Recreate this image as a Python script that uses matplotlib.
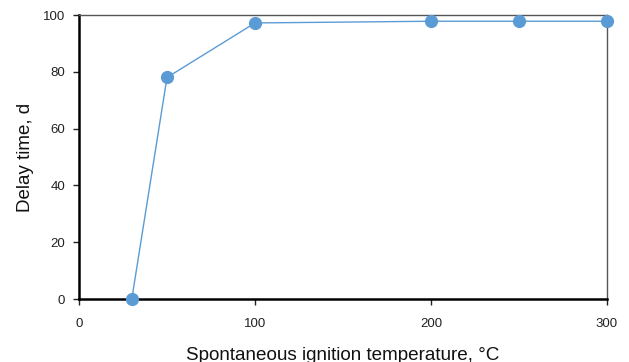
import matplotlib
matplotlib.use('Agg')
import matplotlib.pyplot as plt

# 数据
temps = [30, 50, 100, 200, 250, 300]
delay = [0, 78, 97.2, 97.8, 97.8, 97.8]
xticks = [0, 100, 200, 300]
yticks = [0, 20, 40, 60, 80, 100]

plt.rcParams['font.family'] = ['Liberation Sans', 'DejaVu Sans']

fig = plt.figure(figsize=(6.29, 3.62), dpi=100)
ax = fig.add_axes([79/629, 63/362, 528/629, 284/362])

ax.plot(temps, delay, color='#5B9BD5', linewidth=1.0, marker='o',
        markersize=8.5, markerfacecolor='#5B9BD5', markeredgecolor='#5B9BD5',
        clip_on=False, zorder=3)

ax.set_xlim(0, 300)
ax.set_ylim(0, 100)
ax.set_xticks(xticks)
ax.set_yticks(yticks)
ax.tick_params(axis='both', labelsize=9.5, colors='#222222', direction='out',
               length=4, width=1)
ax.tick_params(axis='x', pad=10)
ax.tick_params(axis='y', pad=6)

for s in ['left', 'bottom']:
    ax.spines[s].set_color('black')
    ax.spines[s].set_linewidth(1.8)
for s in ['top', 'right']:
    ax.spines[s].set_color('#555555')
    ax.spines[s].set_linewidth(1.0)

ax.set_xlabel('Spontaneous ignition temperature, °C', fontsize=13.6, color='#111111')
ax.set_ylabel('Delay time, d', fontsize=13.5, color='#111111')
ax.xaxis.set_label_coords(0.5, -(347-299)/284)
ax.xaxis.label.set_va('top')
ax.yaxis.set_label_coords(-(79-26)/528, 0.5)
ax.yaxis.label.set_va('center')

fig.savefig('out.png', dpi=100)
